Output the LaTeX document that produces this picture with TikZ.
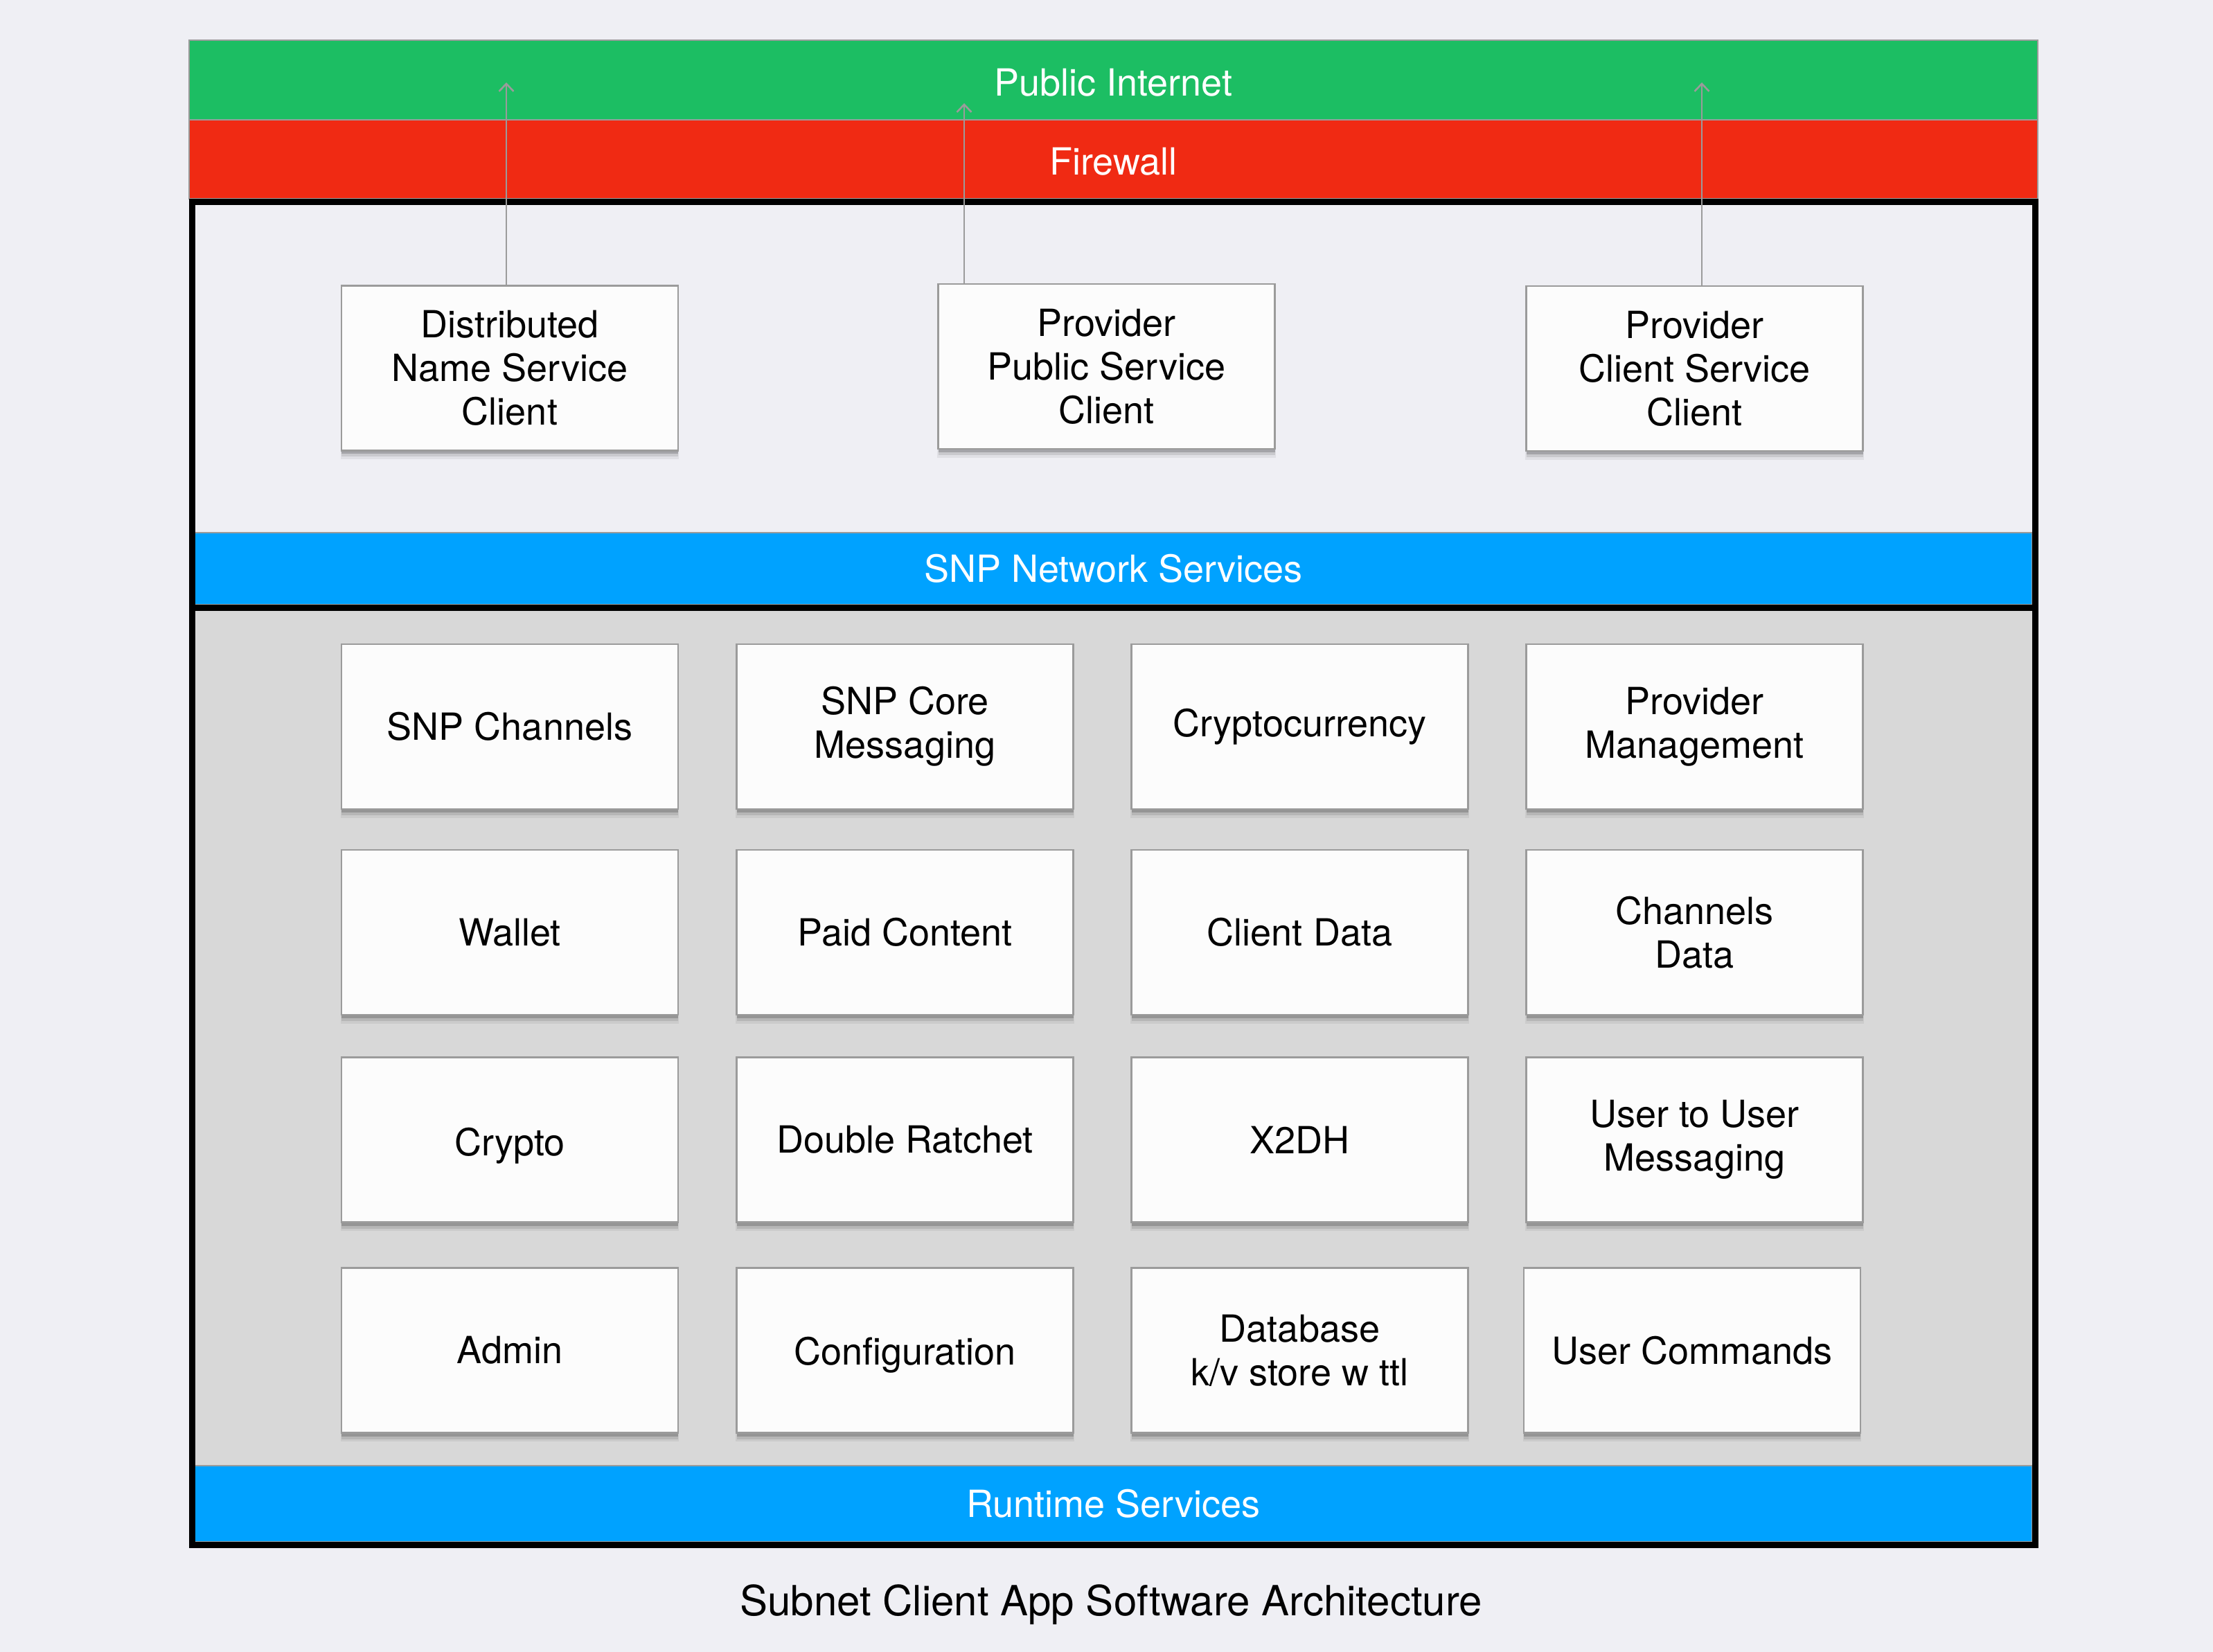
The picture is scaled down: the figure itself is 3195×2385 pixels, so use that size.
\documentclass[tikz,border=0pt]{standalone}
\usepackage{fontspec}
\setmainfont{TeX Gyre Heros}
\usetikzlibrary{arrows.meta,shadows}
\definecolor{bgcol}{HTML}{EFEFF4}
\definecolor{netgreen}{HTML}{1CBE63}
\definecolor{firered}{HTML}{F02A13}
\definecolor{svcblue}{HTML}{00A2FF}
\definecolor{areagray}{HTML}{D8D8D8}
\definecolor{edgegray}{HTML}{9B9B9B}
\definecolor{boxfill}{HTML}{FCFCFC}
\newcommand{\lowerby}[2]{\raisebox{-#1}[\height][0pt]{#2}}
\tikzset{
  modbox/.style={draw=edgegray, line width=1.25pt, fill=boxfill,
    minimum width=243pt, minimum height=119pt, inner sep=0pt, outer sep=0pt,
    align=center, font=\fontsize{27}{31.5}\selectfont,
    drop shadow={shadow xshift=0pt, shadow yshift=-6pt, shadow scale=1.005, opacity=0.06, fill=black},
    drop shadow={shadow xshift=0pt, shadow yshift=-4.5pt, opacity=0.10, fill=black},
    drop shadow={shadow xshift=0pt, shadow yshift=-2.5pt, opacity=0.18, fill=black}},
  barnode/.style={draw=edgegray, line width=1pt, inner sep=0pt, outer sep=0pt,
    text=white, font=\fontsize{27}{31.5}\selectfont},
  upconn/.style={draw=edgegray, line width=1.3pt, -{Straight Barb[length=5.5pt, width=10.5pt]}},
}
\begin{document}
\begin{tikzpicture}[x=0.5pt, y=-0.5pt]
\fill[bgcol] (0,0) rectangle (3195,2385);
\useasboundingbox (0,0) rectangle (3195,2385);
% grey lower area
\fill[areagray] (281,877) rectangle (2934,2116);
% bars
\node[barnode, fill=netgreen, minimum width=1334.5pt, minimum height=57.5pt] (inet) at (1607.5,115.5) {\lowerby{1.8pt}{Public Internet}};
\node[barnode, fill=firered, minimum width=1334.5pt, minimum height=57pt] (fw) at (1607.5,230) {\lowerby{1.6pt}{Firewall}};
\node[barnode, fill=svcblue, minimum width=1326.5pt, minimum height=52pt] (snp) at (1607.5,821) {SNP Network Services};
\node[barnode, fill=svcblue, minimum width=1326.5pt, minimum height=55pt] (rt) at (1607.5,2171) {Runtime Services};
% frame
\draw[black, line width=4.5pt] (277,292) rectangle (2938,2230);
\draw[black, line width=4.5pt] (277,877) -- (2938,877);
% top boxes
\node[modbox] (dns) at (736,531.5) {Distributed\\Name Service\\Client};
\node[modbox] (pps) at (1597.5,529) {Provider\\Public Service\\Client};
\node[modbox] (pcs) at (2446.5,532) {Provider\\Client Service\\Client};
% grid
\node[modbox] (chan) at (736,1049) {SNP Channels};
\node[modbox] (core) at (1306.5,1049) {SNP Core\\Messaging};
\node[modbox] (ccy) at (1876.5,1049) {Cryptocurrency};
\node[modbox] (pmgmt) at (2446.5,1049) {Provider\\Management};
\node[modbox] (wallet) at (736,1346) {Wallet};
\node[modbox] (paid) at (1306.5,1346) {Paid Content};
\node[modbox] (cdata) at (1876.5,1346) {Client Data};
\node[modbox] (chdata) at (2446.5,1346) {Channels\\Data};
\node[modbox] (crypto) at (736,1645.5) {\lowerby{1.5pt}{Crypto}};
\node[modbox] (ratchet) at (1306.5,1645.5) {Double Ratchet};
\node[modbox] (xdh) at (1876.5,1645.5) {X2DH};
\node[modbox] (u2u) at (2446.5,1645.5) {User to User\\Messaging};
\node[modbox] (admin) at (736,1949.5) {Admin};
\node[modbox] (config) at (1306.5,1949.5) {\lowerby{0.6pt}{Configuration}};
\node[modbox] (db) at (1876.5,1949.5) {Database\\k/v store w ttl};
\node[modbox] (ucmd) at (2443,1949.5) {User Commands};
% title
\node[font=\fontsize{30}{36}\selectfont, inner sep=0pt, anchor=base] (title) at (1604,2332) {Subnet Client App Software Architecture};
% connectors
\coordinate (t1) at (731,119);
\coordinate (t2) at (1392,149);
\coordinate (t3) at (2457,119);
\draw[upconn] (dns.north -| t1) -- (t1);
\draw[upconn] (pps.north -| t2) -- (t2);
\draw[upconn] (pcs.north -| t3) -- (t3);
\end{tikzpicture}
\end{document}
